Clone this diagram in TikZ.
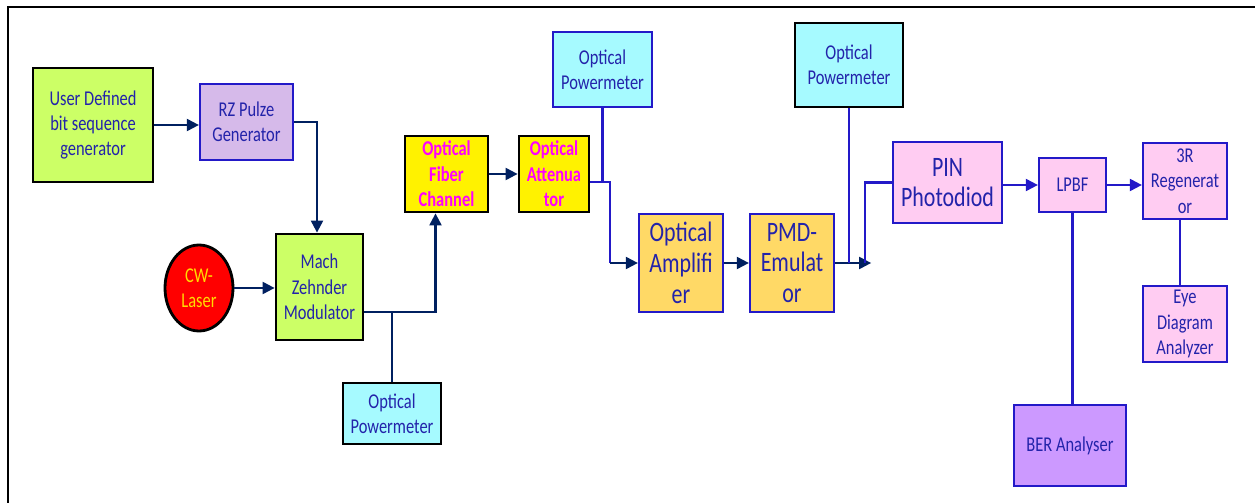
\documentclass[tikz,border=0pt]{standalone}
\usepackage{fontspec}
\setmainfont{Carlito}[FakeStretch=0.78]
\usetikzlibrary{arrows.meta,positioning,calc,shapes.geometric}
\definecolor{txtblue}{RGB}{35,35,170}
\definecolor{edgeblue}{RGB}{35,25,200}
\definecolor{navyline}{RGB}{0,32,96}
\definecolor{limefill}{RGB}{204,255,102}
\definecolor{lavfill}{RGB}{214,186,234}
\definecolor{cyanfill}{RGB}{166,250,255}
\definecolor{orangefill}{RGB}{255,217,102}
\definecolor{pinkfill}{RGB}{255,204,242}
\definecolor{purplefill}{RGB}{204,153,255}
\definecolor{hotpink}{RGB}{255,0,255}
\definecolor{laseryellow}{RGB}{255,220,0}

\begin{document}
\begin{tikzpicture}[
		x=0.02cm,y=-0.02cm,
		>={Triangle[length=0.24cm,width=0.24cm]},
		block/.style={
			draw,
			align=center,
			inner sep=0pt,
			text=txtblue,
			font=\fontsize{12}{14.5}\selectfont
		},
		blk/.style={block,draw=black,line width=1.6pt},
		blu/.style={block,draw=edgeblue,line width=1.3pt},
		big/.style={font=\fontsize{16}{17.5}\selectfont},
		hot/.style={blk,fill=yellow,text=hotpink,font=\fontsize{12}{14.5}\selectfont\bfseries},
		nav/.style={draw=navyline,line width=1.2pt},
		lnk/.style={draw=edgeblue,line width=1.2pt}
		]
		\useasboundingbox (0,0) rectangle (1255,503);
		\draw[line width=1.6pt] (8,503) -- (8,7) -- (1255,7);

		\node[blk,fill=limefill,minimum width=2.4cm,minimum height=2.28cm] (user) at (93,125) {User Defined\\bit sequence\\generator};
		\node[blu,fill=lavfill,minimum width=1.86cm,minimum height=1.52cm] (rz) at (246.5,122) {RZ Pulze\\Generator};
		\node[blk,ellipse,fill=red,text=laseryellow,minimum width=1.36cm,minimum height=1.72cm] (laser) at (199,288) {CW-\\Laser};
		\node[blk,fill=limefill,minimum width=1.74cm,minimum height=2.12cm] (mzm) at (319.5,287) {Mach\\Zehnder\\Modulator};
		\node[blk,fill=cyanfill,minimum width=1.96cm,minimum height=1.22cm] (pm1) at (392,413.5) {Optical\\Powermeter};
		\node[hot,minimum width=1.66cm,minimum height=1.52cm] (fiber) at (446.5,174) {Optical\\Fiber\\Channel};
		\node[hot,minimum width=1.4cm,minimum height=1.52cm] (atten) at (554,174) {Optical\\Attenua\\tor};
		\node[blu,fill=cyanfill,minimum width=1.98cm,minimum height=1.5cm] (pm2) at (602.5,69.5) {Optical\\Powermeter};
		\node[blu,big,fill=orangefill,minimum width=1.68cm,minimum height=1.96cm] (amp) at (681,263) {Optical\\Amplifi\\er};
		\node[blu,big,fill=orangefill,minimum width=1.68cm,minimum height=1.96cm] (pmd) at (792,263) {PMD-\\Emulat\\or};
		\node[blk,fill=cyanfill,minimum width=2.16cm,minimum height=1.68cm] (pm3) at (849,65) {Optical\\Powermeter};
		\node[blu,big,fill=pinkfill,minimum width=2.18cm,minimum height=1.62cm] (pin) at (947.5,182.5) {PIN\\Photodiod};
		\node[blu,fill=pinkfill,minimum width=1.34cm,minimum height=1.08cm] (lpbf) at (1072.5,185) {LPBF};
		\node[blu,fill=pinkfill,minimum width=1.68cm,minimum height=1.52cm] (regen) at (1185,181) {3R\\Regenerat\\or};
		\node[blu,fill=pinkfill,minimum width=1.68cm,minimum height=1.52cm] (eye) at (1185,324) {Eye\\Diagram\\Analyzer};
		\node[blu,fill=purplefill,minimum width=2.24cm,minimum height=1.62cm] (ber) at (1070,445.5) {BER Analyser};

		\draw[nav,->] (user.east) -- (user.east -| rz.west);
		\draw[nav,->] (rz.east) -| ($(mzm.north)+(-2.5,0)$);
		\draw[nav,->] (laser.east) -- (laser.east -| mzm.west);
		\coordinate (mzout) at ($(mzm.east)+(0,25)$);
		\draw[nav,->] (mzout) -| ($(fiber.south)+(-11,0)$);
		\draw[nav] (pm1.north) -- (pm1.north |- mzout);
		\draw[nav,->] (fiber.east) -- (atten.west);
		\coordinate (attout) at ($(atten.east)+(0,8)$);
		\draw[lnk] (attout) -- ++(20,0) coordinate (bend) -- (bend |- amp.west);
		\draw[nav,->] (bend |- amp.west) -- (amp.west);
		\draw[lnk] (pm2.south) -- (pm2.south |- attout);
		\draw[nav,->] (amp.east) -- (pmd.west);
		\draw[nav,->] (pmd.east) -- ++(36,0) coordinate (pmdout);
		\draw[lnk] (pm3.south) -- (pm3.south |- pmd.east);
		\draw[lnk] ($(pmdout)+(-6,0)$) |- (pin.west);
		\draw[lnk,->] (lpbf.west -| pin.east) -- (lpbf.west);
		\draw[lnk,->] (lpbf.east) -- (lpbf.east -| regen.west);
		\draw[lnk] ($(regen.south)+(-5,0)$) -- ($(eye.north)+(-5,0)$);
		\draw[lnk] (lpbf.south) -- (lpbf.south |- ber.north);
		\end{tikzpicture}
\end{document}
